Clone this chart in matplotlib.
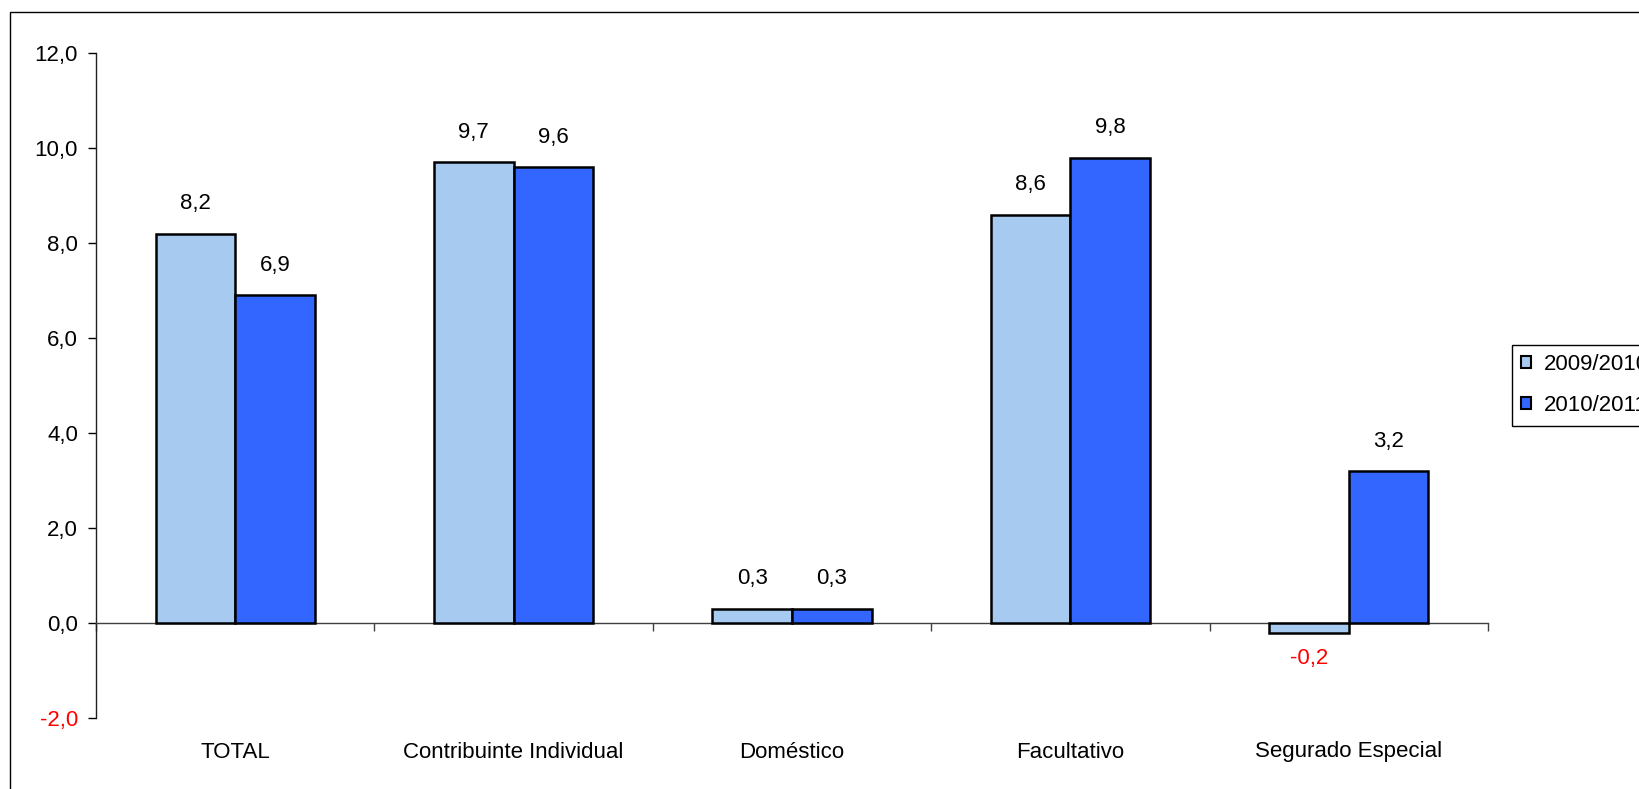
import matplotlib
matplotlib.use("Agg")
import matplotlib.pyplot as plt
from matplotlib.patches import Rectangle
from matplotlib.ticker import FuncFormatter
import numpy as np

categories = ["TOTAL", "Contribuinte Individual", "Doméstico", "Facultativo", "Segurado Especial"]
series_names = ["2009/2010", "2010/2011"]
values_2009_2010 = [8.2, 9.7, 0.3, 8.6, -0.2]
values_2010_2011 = [6.9, 9.6, 0.3, 9.8, 3.2]
y_ticks = [-2.0, 0.0, 2.0, 4.0, 6.0, 8.0, 10.0, 12.0]

colors = ["#A6CAF0", "#3366FF"]
plt.rcParams["font.family"] = ["Liberation Sans", "DejaVu Sans"]
FS = 16

W, H = 1639, 789
fig = plt.figure(figsize=(W / 100, H / 100), dpi=100)
ax = fig.add_axes([96 / W, (H - 718) / H, (1488 - 96) / W, (718 - 53) / H])

n = len(categories)
centers = np.arange(n) + 0.5
bw = 0.286

def fmt(v):
    return f"{v:.1f}".replace(".", ",")

for i, (vals, col, name) in enumerate(zip([values_2009_2010, values_2010_2011], colors, series_names)):
    xs = centers + (i - 0.5) * bw
    ax.bar(xs, vals, width=bw, color=col, edgecolor="black", linewidth=1.8, label=name, zorder=3)
    for x, v in zip(xs, vals):
        if v >= 0:
            ax.annotate(fmt(v), (x, v), xytext=(0, 14), textcoords="offset points",
                        ha="center", va="bottom", fontsize=FS, color="black")
        else:
            ax.annotate(fmt(v), (x, v), xytext=(0, -11), textcoords="offset points",
                        ha="center", va="top", fontsize=FS, color="red")

ax.set_xlim(0, n)
ax.set_ylim(-2, 12)
ax.set_yticks(y_ticks)
ax.yaxis.set_major_formatter(FuncFormatter(lambda v, p: fmt(v)))
ax.tick_params(axis="y", direction="out", length=6, width=1, pad=7, labelsize=FS, colors="black")

# x axis line sits at zero, ticks mark category boundaries
ax.spines["bottom"].set_position(("data", 0))
ax.spines["bottom"].set_color("#404040")
ax.spines["bottom"].set_linewidth(1)
ax.spines["left"].set_color("#202020")
ax.spines["left"].set_linewidth(1)
ax.spines["top"].set_visible(False)
ax.spines["right"].set_visible(False)
ax.set_xticks(np.arange(n + 1))
ax.set_xticklabels([])
ax.tick_params(axis="x", direction="out", length=6, width=1, colors="#404040")

# negative tick labels in red
fig.canvas.draw()
for lbl in ax.get_yticklabels():
    txt = lbl.get_text()
    if txt.startswith("-") or txt.startswith("\u2212"):
        lbl.set_color("red")

# category names along the bottom of the plot area
trans = matplotlib.transforms.blended_transform_factory(ax.transData, ax.transAxes)
for c, name in zip(centers, categories):
    ax.text(c, -34 / 665, name, transform=trans, ha="center", va="center", fontsize=FS)

leg = fig.legend(loc="upper left", bbox_to_anchor=(1512 / W, 1 - 345 / H), fontsize=FS,
                 frameon=True, fancybox=False, edgecolor="black", framealpha=1,
                 handlelength=0.45, handleheight=0.45, handletextpad=0.55,
                 labelspacing=0.9, borderpad=0.42, borderaxespad=0)
leg.get_frame().set_linewidth(1)
for h in leg.legend_handles:
    h.set_edgecolor("black")
    h.set_linewidth(1.5)

# outer chart border
fig.patches.append(Rectangle((10 / W, -0.1), 1.2, 1 - 12 / H + 0.1, transform=fig.transFigure,
                             fill=False, edgecolor="black", linewidth=1.0))

fig.savefig("out.png", dpi=100)
